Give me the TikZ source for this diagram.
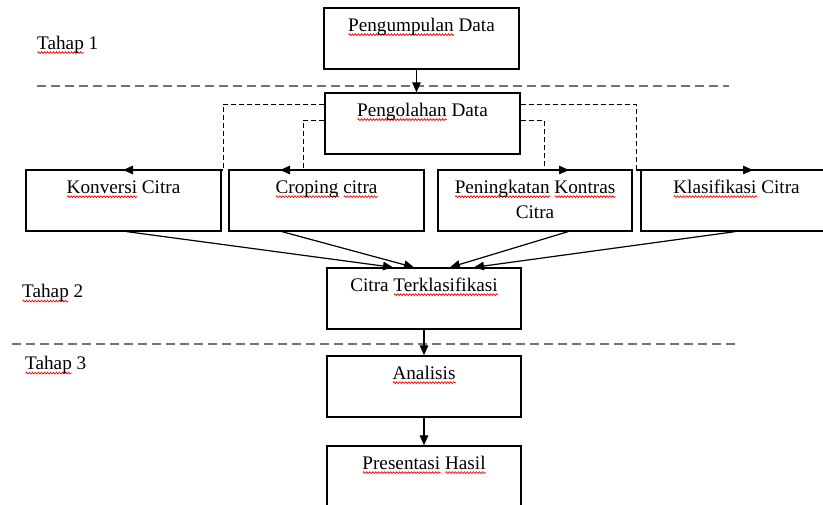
\documentclass[tikz,border=0pt]{standalone}
\usepackage{fontspec}
\setmainfont{Liberation Serif}
\usetikzlibrary{arrows.meta,decorations.pathmorphing}
\newlength\sqlen
\newcommand\sqw[1]{\settowidth\sqlen{#1}\rlap{\tikz[baseline=0pt]\draw[red,line width=0.7pt,decorate,decoration={snake,amplitude=0.9pt,segment length=3pt}] (0pt,-3.6pt) -- (\sqlen,-3.6pt);}#1}
\begin{document}
\begin{tikzpicture}[x=1pt,y=-1pt,
  font=\fontsize{19.2}{25}\selectfont,
  box/.style={draw, line width=1.3pt, rectangle, inner sep=0pt, minimum width=195pt, minimum height=61pt},
  lbl/.style={inner sep=0pt, anchor=base},
  arr/.style={line width=1.2pt, -{Triangle[length=10pt,width=8.5pt]}},
  dconn/.style={line width=1pt, dash pattern=on 5pt off 3pt},
  phase/.style={draw=black!55, line width=2pt, dash pattern=on 9pt off 5pt}]
\useasboundingbox (0,0) rectangle (823,504);
\clip (0,0) rectangle (823,504);
% phase dividers
\coordinate (d1a) at (37,86);  \coordinate (d1b) at (729,86);
\coordinate (d2a) at (12,344); \coordinate (d2b) at (736,344);
\draw[phase] (d1a) -- (d1b);
\draw[phase] (d2a) -- (d2b);
% stage labels
\node[lbl, anchor=base west] (t1) at (37,49) {\sqw{Tahap} 1};
\node[lbl, anchor=base west] (t2) at (22,297.5) {\sqw{Tahap} 2};
\node[lbl, anchor=base west] (t3) at (25,369.5) {\sqw{Tahap} 3};
% boxes
\node[box] (pd) at (421.5,38.5) {};
\node[box] (po) at (422.5,123.5) {};
\node[box] (kc) at (123.5,200.5) {};
\node[box] (cc) at (326.5,200.5) {};
\node[box, minimum width=194pt] (pk) at (535,200.5) {};
\node[box, minimum width=191pt] (kl) at (736.5,200.5) {};
\node[box, minimum width=194pt] (ct) at (424,298.5) {};
\node[box, minimum width=194pt] (an) at (424,386.5) {};
\node[box, minimum width=194pt] (ph) at (424,476.5) {};
% box texts
\node[lbl] (pdt) at ([yshift=-23.7pt]pd.north) {\sqw{Pengumpulan} Data};
\node[lbl] (pot) at ([yshift=-23.7pt]po.north) {\sqw{Pengolahan} Data};
\node[lbl] (kct) at ([yshift=-23.7pt]kc.north) {\sqw{Konversi} Citra};
\node[lbl] (cct) at ([yshift=-23.7pt]cc.north) {\sqw{Croping} \sqw{citra}};
\node[lbl] (pkt) at ([yshift=-23.7pt]pk.north) {\begin{tabular}[t]{@{}c@{}}\sqw{Peningkatan} \sqw{Kontras}\\Citra\end{tabular}};
\node[lbl] (klt) at ([yshift=-23.7pt]kl.north) {\sqw{Klasifikasi} Citra};
\node[lbl] (ctt) at ([yshift=-23.7pt]ct.north) {Citra \sqw{Terklasifikasi}};
\node[lbl] (ant) at ([yshift=-23.7pt]an.north) {\sqw{Analisis}};
\node[lbl] (pht) at ([yshift=-23.7pt]ph.north) {\sqw{Presentasi} \sqw{Hasil}};
% main flow
\draw[arr] ([xshift=-5pt]pd.south) -- ([xshift=-6pt]po.north);
\draw[arr] (ct.south) -- (an.north);
\draw[arr] (an.south) -- (ph.north);
% dashed branches
\coordinate (c1) at (223,170); \coordinate (c1e) at (123,170);
\coordinate (c2) at (303,170); \coordinate (c2e) at (280,170);
\coordinate (c3) at (544,170); \coordinate (c3e) at (569,170);
\coordinate (c4) at (636,170); \coordinate (c4e) at (753,170);
\draw[dconn] ([yshift=-12pt]po.north west) -| (c1);
\draw[dconn] ([yshift=-28pt]po.north west) -| (c2);
\draw[dconn] ([yshift=-28pt]po.north east) -| (c3);
\draw[dconn] ([yshift=-12pt]po.north east) -| (c4);
\draw[arr] (c1) -- (c1e);
\draw[arr] (c2) -- (c2e);
\draw[arr] (c3) -- (c3e);
\draw[arr] (c4) -- (c4e);
% converging arrows
\draw[arr] ([xshift=3.5pt]kc.south) -- ([xshift=-31pt]ct.north);
\draw[arr] ([xshift=-44.5pt]cc.south) -- ([xshift=-10pt]ct.north);
\draw[arr] ([xshift=33pt]pk.south) -- ([xshift=26pt]ct.north);
\draw[arr] ([xshift=-1.5pt]kl.south) -- ([xshift=50pt]ct.north);
\end{tikzpicture}
\end{document}
